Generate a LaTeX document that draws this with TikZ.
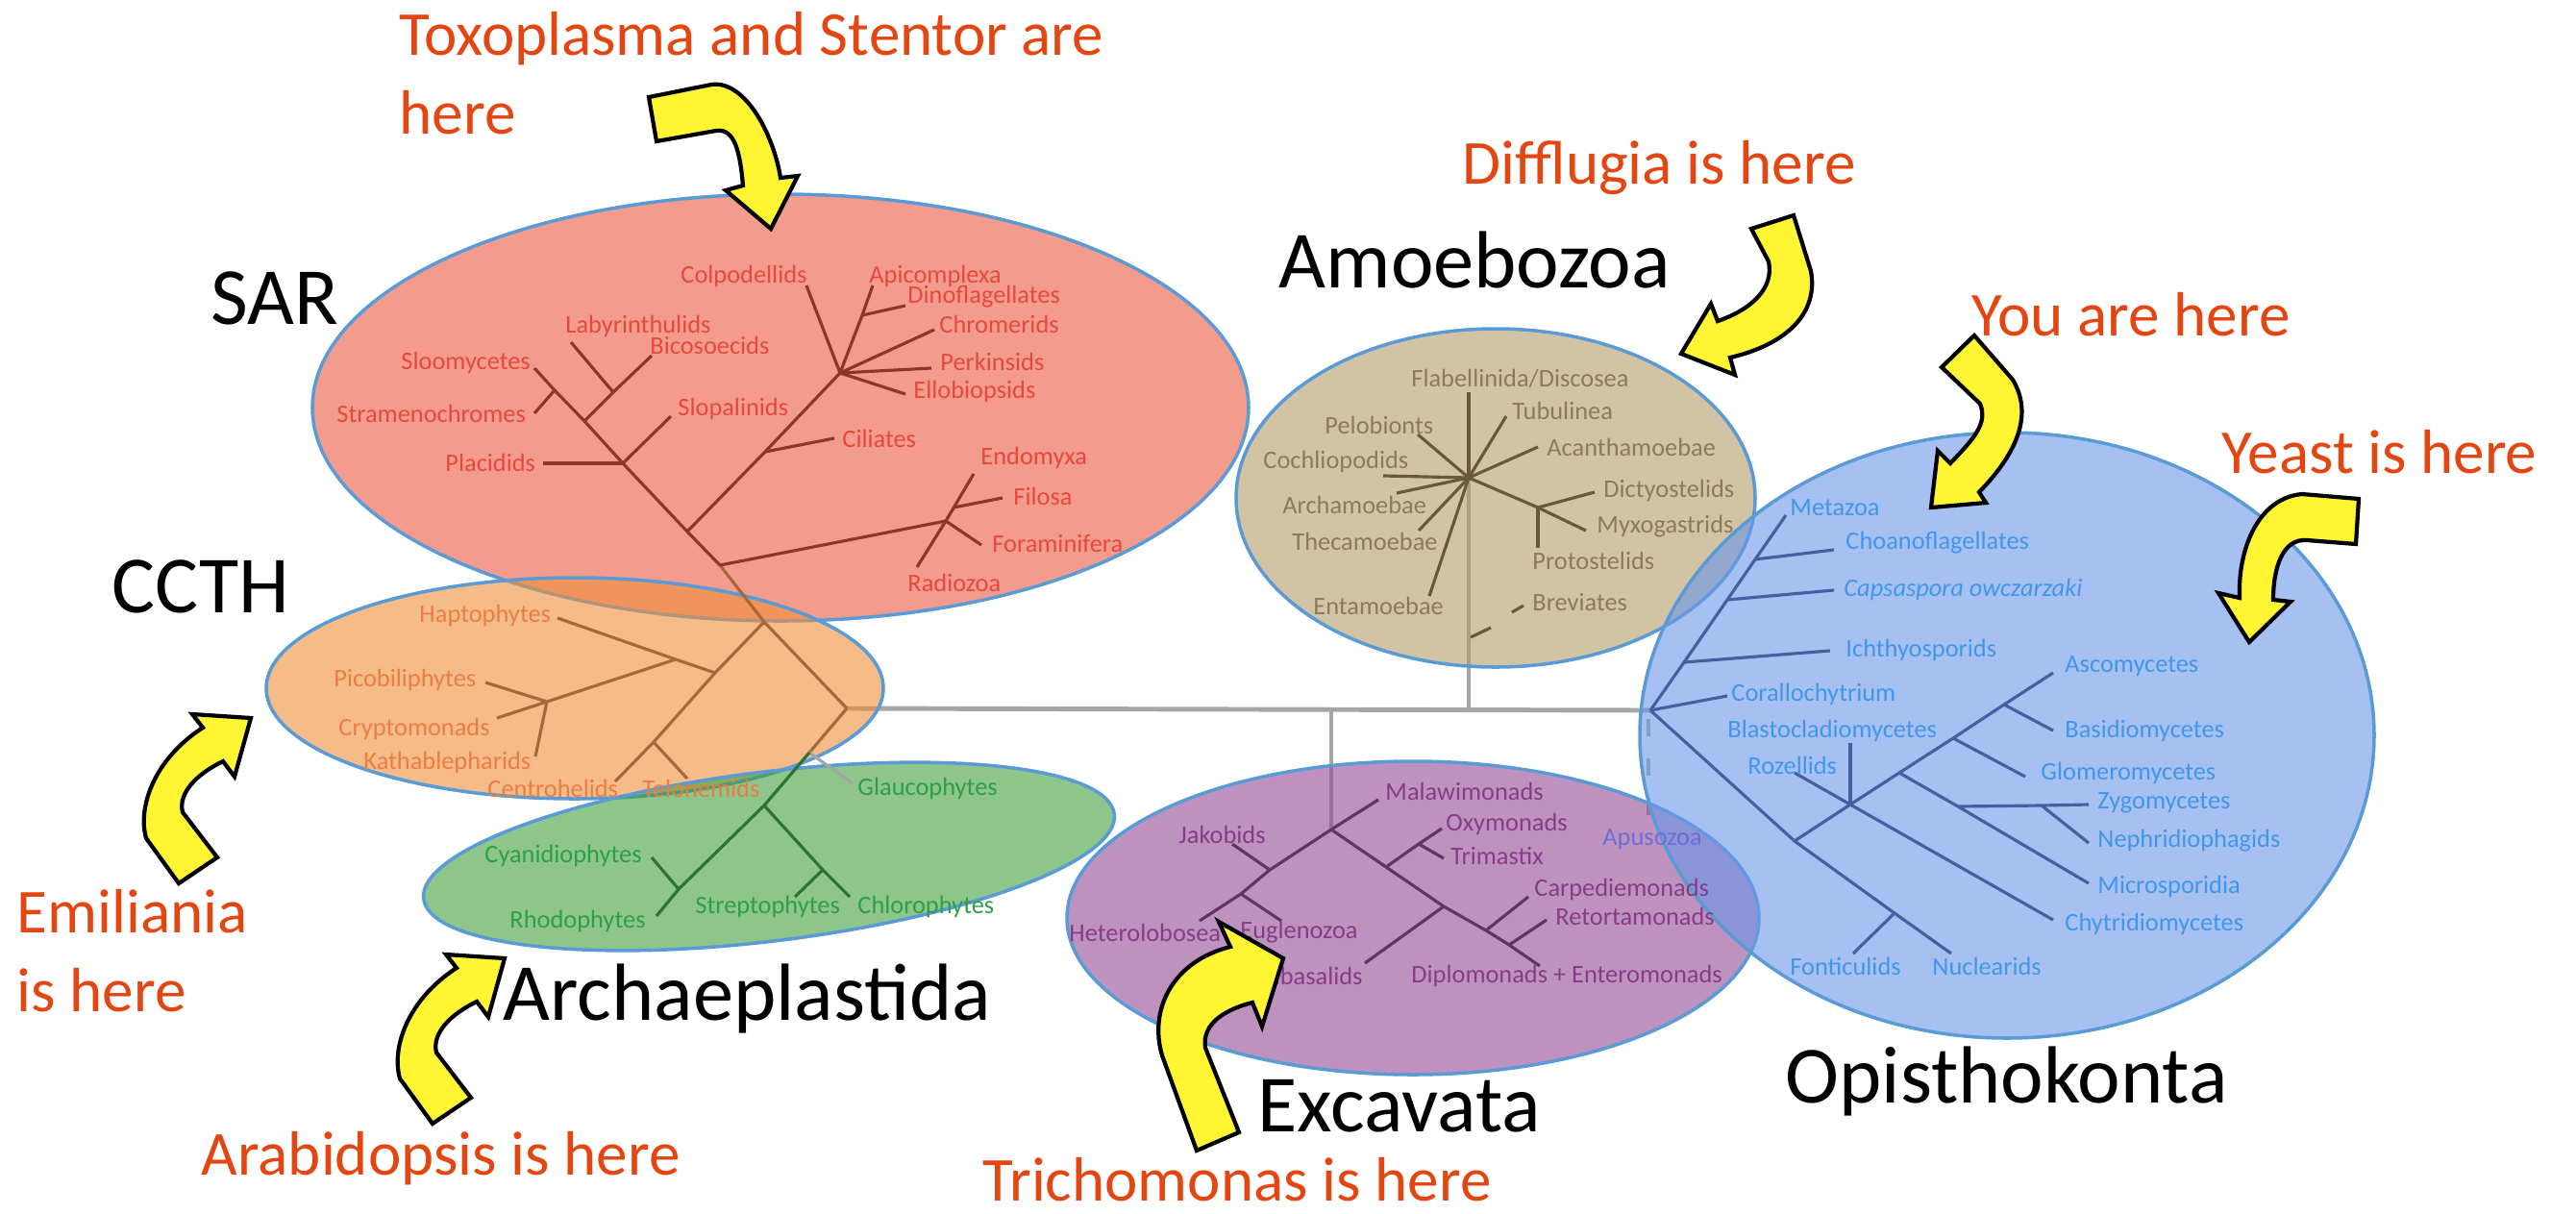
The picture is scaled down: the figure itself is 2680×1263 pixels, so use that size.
\documentclass[tikz,border=0pt]{standalone}
\usepackage{fontspec}
\setmainfont{Carlito}

\definecolor{rim}{RGB}{91,155,213}
\definecolor{sarfill}{RGB}{235,90,65}
\definecolor{ccthfill}{RGB}{238,143,60}
\definecolor{archfill}{RGB}{65,158,60}
\definecolor{amoefill}{RGB}{182,155,105}
\definecolor{excfill}{RGB}{147,73,147}
\definecolor{opisfill}{RGB}{107,150,233}
\definecolor{sarline}{RGB}{145,52,42}
\definecolor{sartext}{RGB}{230,72,62}
\definecolor{ccthline}{RGB}{165,105,60}
\definecolor{ccthtext}{RGB}{236,125,65}
\definecolor{archline}{RGB}{45,115,50}
\definecolor{archtext}{RGB}{45,160,70}
\definecolor{amoeline}{RGB}{105,88,60}
\definecolor{amoetext}{RGB}{140,122,88}
\definecolor{excline}{RGB}{100,50,100}
\definecolor{exctext}{RGB}{135,60,135}
\definecolor{opisline}{RGB}{70,95,160}
\definecolor{opistext}{RGB}{65,150,235}
\definecolor{apustext}{RGB}{110,110,215}
\definecolor{trunk}{RGB}{165,165,165}
\definecolor{herered}{RGB}{228,70,18}
\definecolor{pointer}{RGB}{255,245,51}

\begin{document}
\begin{tikzpicture}[x=0.01cm, y=-0.01cm,
    clade/.style = {draw=rim, line width=1pt, fill opacity=0.6},
    trunkline/.style = {draw=trunk, line width=1.4pt},
    branch/.style = {line width=0.9pt},
    leaf/.style = {anchor=west, inner sep=0.5pt, font=\fontsize{7.5}{8}\selectfont},
    group/.style = {anchor=base west, inner sep=0pt, font=\fontsize{24}{28}\selectfont},
    here/.style = {inner sep=0pt, text=herered, font=\fontsize{18.5}{23.2}\selectfont},
    bent/.style = {fill=pointer, draw=black, line width=1.2pt, line join=miter}]

\useasboundingbox (0,0) rectangle (2680,1263);

\coordinate (rN) at (881,737);
\coordinate (oRoot) at (1717,739);
\coordinate (mBot) at (1528,737);
\coordinate (mTop) at (1528,408);
\coordinate (eTop) at (1385,737);
\coordinate (eN) at (1385,863);
\coordinate (apTop) at (1715,748);
\coordinate (apBot) at (1715,862);

\draw[trunkline] (rN) -- (oRoot);
\draw[trunkline] (eTop) -- (eN);
\draw[trunkline] (mBot) -- (mTop);
\draw[trunkline, line width=1pt, dash pattern=on 0.18cm off 0.23cm] (apTop) -- (apBot);

\draw[clade, fill=sarfill] (812,424) ellipse [x radius=487, y radius=222];
\draw[clade, fill=ccthfill] (598,716) ellipse [x radius=321, y radius=115];
\draw[clade, fill=archfill, rotate around={7:(800,891)}] (800,891) ellipse [x radius=362, y radius=88];
\draw[clade, fill=amoefill] (1556,518) ellipse [x radius=270, y radius=176];
\draw[clade, fill=excfill] (1470,955) ellipse [x radius=360, y radius=163];
\draw[clade, fill=opisfill] (2088,765) ellipse [x radius=382, y radius=315];

\coordinate (hN) at (795,647);
\coordinate (sRhN) at (749,588);
\coordinate (sAlv) at (715,553);
\coordinate (sPlN) at (648,482);
\coordinate (sStN) at (608,438);
\coordinate (sSlN) at (577,406);
\coordinate (sSloo) at (556,383);
\coordinate (sStra) at (556,430);
\coordinate (sLabN) at (638,408);
\coordinate (sLaby) at (594,356);
\coordinate (sBico) at (678,370);
\coordinate (sPlac) at (565,482);
\coordinate (sSlop) at (698,433);
\coordinate (sCilN) at (796,470);
\coordinate (sCili) at (868,456);
\coordinate (sHub) at (874,388);
\coordinate (sColp) at (839,297);
\coordinate (sApN) at (897,328);
\coordinate (sApic) at (908,297);
\coordinate (sDino) at (942,318);
\coordinate (sChro) at (972,343);
\coordinate (sPerk) at (969,383);
\coordinate (sEllo) at (942,410);
\coordinate (sRhiz) at (984,542);
\coordinate (sEndo) at (1013,493);
\coordinate (sRadi) at (954,590);
\coordinate (sFilN) at (992,528);
\coordinate (sFilo) at (1043,518);
\coordinate (sFora) at (1021,567);

\draw[branch, ccthline] (hN) -- (sRhN);
\draw[branch, sarline] (sRhN) -- (sAlv) -- (sPlN) -- (sStN) -- (sSlN) -- (sSloo);
\draw[branch, sarline] (sSlN) -- (sStra);
\draw[branch, sarline] (sStN) -- (sLabN) -- (sBico);
\draw[branch, sarline] (sLabN) -- (sLaby);
\draw[branch, sarline] (sPlN) -- (sPlac);
\draw[branch, sarline] (sPlN) -- (sSlop);
\draw[branch, sarline] (sAlv) -- (sCilN) -- (sHub);
\draw[branch, sarline] (sCilN) -- (sCili);
\draw[branch, sarline] (sHub) -- (sColp);
\draw[branch, sarline] (sHub) -- (sApN) -- (sApic);
\draw[branch, sarline] (sApN) -- (sDino);
\draw[branch, sarline] (sHub) -- (sChro);
\draw[branch, sarline] (sHub) -- (sPerk);
\draw[branch, sarline] (sHub) -- (sEllo);
\draw[branch, sarline] (sRhN) -- (sRhiz);
\draw[branch, sarline] (sRadi) -- (sRhiz) -- (sEndo);
\draw[branch, sarline] (sFilN) -- (sFilo);
\draw[branch, sarline] (sRhiz) -- (sFora);

\node[leaf, text=sartext] (colp) at (706,287) {Colpodellids};
\node[leaf, text=sartext] (apic) at (902,287) {Apicomplexa};
\node[leaf, text=sartext] (dino) at (942,309) {Dinoflagellates};
\node[leaf, text=sartext] (chro) at (975,337) {Chromerids};
\node[leaf, text=sartext] (perk) at (976,376) {Perkinsids};
\node[leaf, text=sartext] (ello) at (948,407) {Ellobiopsids};
\node[leaf, text=sartext] (laby) at (586,339) {Labyrinthulids};
\node[leaf, text=sartext] (bico) at (674,359) {Bicosoecids};
\node[leaf, text=sartext] (sloo) at (415,377) {Sloomycetes};
\node[leaf, text=sartext] (stra) at (348,430) {Stramenochromes};
\node[leaf, text=sartext] (slop) at (703,425) {Slopalinids};
\node[leaf, text=sartext] (plac) at (461,481) {Placidids};
\node[leaf, text=sartext] (cili) at (874,456) {Ciliates};
\node[leaf, text=sartext] (endo) at (1018,476) {Endomyxa};
\node[leaf, text=sartext] (filo) at (1052,516) {Filosa};
\node[leaf, text=sartext] (fora) at (1030,566) {Foraminifera};
\node[leaf, text=sartext] (radi) at (942,606) {Radiozoa};

\coordinate (cHac) at (744,700);
\coordinate (cCeN) at (680,772);
\coordinate (cCent) at (640,813);
\coordinate (cTelo) at (715,810);
\coordinate (cHapt) at (580,643);
\coordinate (cHapB) at (703,686);
\coordinate (cCrN) at (569,730);
\coordinate (cPico) at (505,710);
\coordinate (cCryp) at (517,747);
\coordinate (cKath) at (557,787);

\draw[branch, ccthline] (hN) -- (cHac) -- (cCeN) -- (cCent);
\draw[branch, ccthline] (cCeN) -- (cTelo);
\draw[branch, ccthline] (cHac) -- (cHapB) -- (cHapt);
\draw[branch, ccthline] (cHapB) -- (cCrN);
\draw[branch, ccthline] (cCrN) -- (cPico);
\draw[branch, ccthline] (cCrN) -- (cCryp);
\draw[branch, ccthline] (cCrN) -- (cKath);
\draw[branch, ccthline] (hN) -- (rN);

\node[leaf, text=ccthtext] (hapt) at (434,640) {Haptophytes};
\node[leaf, text=ccthtext] (pico) at (345,707) {Picobiliphytes};
\node[leaf, text=ccthtext] (cryp) at (350,758) {Cryptomonads};
\node[leaf, text=ccthtext] (kath) at (376,793) {Kathablepharids};
\node[leaf, text=ccthtext] (cent) at (505,820) {Centrohelids};
\node[leaf, text=ccthtext] (telo) at (666,820) {Telonemids};

\coordinate (gB) at (842,783);
\coordinate (gGlau) at (887,815);
\coordinate (aN) at (795,838);
\coordinate (aRN) at (706,925);
\coordinate (aRhod) at (683,953);
\coordinate (aCyan) at (678,892);
\coordinate (aGN) at (856,905);
\coordinate (aChlo) at (884,933);
\coordinate (aStre) at (827,933);

\draw[branch, ccthline] (rN) -- (gB);
\draw[branch, trunk] (gB) -- (gGlau);
\draw[branch, archline] (gB) -- (aN) -- (aRN) -- (aRhod);
\draw[branch, archline] (aRN) -- (aCyan);
\draw[branch, archline] (aN) -- (aGN) -- (aChlo);
\draw[branch, archline] (aGN) -- (aStre);

\node[leaf, text=archtext] (glau) at (890,820) {Glaucophytes};
\node[leaf, text=archtext] (cyan) at (502,890) {Cyanidiophytes};
\node[leaf, text=archtext] (rhod) at (528,958) {Rhodophytes};
\node[leaf, text=archtext] (stre) at (721,943) {Streptophytes};
\node[leaf, text=archtext] (chlo) at (890,943) {Chlorophytes};

\coordinate (mHub) at (1528,497);
\coordinate (mTubu) at (1567,433);
\coordinate (mPelo) at (1475,452);
\coordinate (mAcan) at (1600,465);
\coordinate (mCoch) at (1439,495);
\coordinate (mArch) at (1453,513);
\coordinate (mThec) at (1476,552);
\coordinate (mEnta) at (1487,620);
\coordinate (mDiN) at (1600,528);
\coordinate (mDict) at (1659,512);
\coordinate (mMyxo) at (1650,552);
\coordinate (mProt) at (1600,570);
\coordinate (mBrA) at (1573,637);
\coordinate (mBrB) at (1585,630);
\coordinate (mTkA) at (1530,663);
\coordinate (mTkB) at (1551,653);

\draw[branch, amoeline] (mTop) -- (mHub);
\draw[branch, amoeline] (mHub) -- (mTubu);
\draw[branch, amoeline] (mHub) -- (mPelo);
\draw[branch, amoeline] (mHub) -- (mAcan);
\draw[branch, amoeline] (mHub) -- (mCoch);
\draw[branch, amoeline] (mHub) -- (mArch);
\draw[branch, amoeline] (mHub) -- (mThec);
\draw[branch, amoeline] (mHub) -- (mEnta);
\draw[branch, amoeline] (mHub) -- (mDiN) -- (mDict);
\draw[branch, amoeline] (mDiN) -- (mMyxo);
\draw[branch, amoeline] (mDiN) -- (mProt);
\draw[branch, amoeline] (mBrA) -- (mBrB);
\draw[branch, amoeline] (mTkA) -- (mTkB);

\node[leaf, text=amoetext] (flab) at (1466,394) {Flabellinida/Discosea};
\node[leaf, text=amoetext] (tubu) at (1571,427) {Tubulinea};
\node[leaf, text=amoetext] (pelo) at (1376,442) {Pelobionts};
\node[leaf, text=amoetext] (acan) at (1607,465) {Acanthamoebae};
\node[leaf, text=amoetext] (coch) at (1312,480) {Cochliopodids};
\node[leaf, text=amoetext] (dict) at (1666,510) {Dictyostelids};
\node[leaf, text=amoetext] (archa) at (1332,525) {Archamoebae};
\node[leaf, text=amoetext] (myxo) at (1659,548) {Myxogastrids};
\node[leaf, text=amoetext] (thec) at (1342,563) {Thecamoebae};
\node[leaf, text=amoetext] (prot) at (1592,583) {Protostelids};
\node[leaf, text=amoetext] (enta) at (1364,630) {Entamoebae};
\node[leaf, text=amoetext] (brev) at (1592,627) {Breviates};

\coordinate (eMala) at (1434,832);
\coordinate (eJaN) at (1321,905);
\coordinate (eJako) at (1282,878);
\coordinate (eDiN) at (1291,930);
\coordinate (eHete) at (1248,958);
\coordinate (eEugl) at (1333,958);
\coordinate (eOxB) at (1442,902);
\coordinate (eOxN) at (1476,878);
\coordinate (eOxym) at (1500,862);
\coordinate (eTrim) at (1502,893);
\coordinate (ePaN) at (1502,943);
\coordinate (ePara) at (1420,1002);
\coordinate (eCaB) at (1546,968);
\coordinate (eCarp) at (1590,933);
\coordinate (eDpN) at (1570,983);
\coordinate (eReto) at (1609,957);
\coordinate (eDipl) at (1602,1005);

\draw[branch, excline] (eN) -- (eMala);
\draw[branch, excline] (eN) -- (eJaN) -- (eDiN) -- (eHete);
\draw[branch, excline] (eJaN) -- (eJako);
\draw[branch, excline] (eDiN) -- (eEugl);
\draw[branch, excline] (eN) -- (eOxB) -- (ePaN) -- (eCaB) -- (eDpN) -- (eDipl);
\draw[branch, excline] (eOxB) -- (eOxN) -- (eOxym);
\draw[branch, excline] (eOxN) -- (eTrim);
\draw[branch, excline] (ePaN) -- (ePara);
\draw[branch, excline] (eCaB) -- (eCarp);
\draw[branch, excline] (eDpN) -- (eReto);

\node[leaf, text=exctext] (mala) at (1439,823) {Malawimonads};
\node[leaf, text=exctext] (jako) at (1224,868) {Jakobids};
\node[leaf, text=exctext] (oxym) at (1502,857) {Oxymonads};
\node[leaf, text=exctext] (trim) at (1507,890) {Trimastix};
\node[leaf, text=exctext] (hete) at (1110,970) {Heterolobosea};
\node[leaf, text=exctext] (eugl) at (1288,970) {Euglenozoa};
\node[leaf, text=exctext, anchor=east] (para) at (1420,1015) {Parabasalids};
\node[leaf, text=exctext] (carp) at (1594,925) {Carpediemonads};
\node[leaf, text=exctext] (reto) at (1616,953) {Retortamonads};
\node[leaf, text=exctext] (dipl) at (1466,1015) {Diplomonads + Enteromonads};
\node[leaf, text=apustext] (apus) at (1665,873) {Apusozoa};

\coordinate (oMeta) at (1858,536);
\coordinate (oChB) at (1826,582);
\coordinate (oChoa) at (1908,572);
\coordinate (oCaB) at (1797,624);
\coordinate (oCaps) at (1908,614);
\coordinate (oIcB) at (1752,689);
\coordinate (oIcht) at (1904,677);
\coordinate (oCora) at (1797,724);
\coordinate (oHoN) at (1867,875);
\coordinate (oNuN) at (1971,950);
\coordinate (oNucl) at (2030,992);
\coordinate (oFont) at (1928,992);
\coordinate (oA) at (1925,837);
\coordinate (oB) at (1976,804);
\coordinate (oC) at (2032,768);
\coordinate (oD) at (2085,733);
\coordinate (oAsco) at (2136,700);
\coordinate (oBlas) at (1925,773);
\coordinate (oRoze) at (1867,804);
\coordinate (oChyt) at (2136,957);
\coordinate (oZyB) at (2037,839);
\coordinate (oNeB) at (2124,838);
\coordinate (oZygo) at (2173,837);
\coordinate (oNeph) at (2173,877);
\coordinate (oMicr) at (2173,919);
\coordinate (oGlom) at (2107,808);
\coordinate (oBasi) at (2136,760);

\draw[branch, opisline] (oRoot) -- (oIcB) -- (oCaB) -- (oChB) -- (oMeta);
\draw[branch, opisline] (oChB) -- (oChoa);
\draw[branch, opisline] (oCaB) -- (oCaps);
\draw[branch, opisline] (oIcB) -- (oIcht);
\draw[branch, opisline] (oRoot) -- (oCora);
\draw[branch, opisline] (oRoot) -- (oHoN) -- (oNuN) -- (oNucl);
\draw[branch, opisline] (oNuN) -- (oFont);
\draw[branch, opisline] (oHoN) -- (oA) -- (oB) -- (oC) -- (oD) -- (oAsco);
\draw[branch, opisline] (oRoze) -- (oA) -- (oChyt);
\draw[branch, opisline] (oA) -- (oBlas);
\draw[branch, opisline] (oB) -- (oZyB) -- (oMicr);
\draw[branch, opisline] (oZyB) -- (oNeB) -- (oZygo);
\draw[branch, opisline] (oNeB) -- (oNeph);
\draw[branch, opisline] (oC) -- (oGlom);
\draw[branch, opisline] (oD) -- (oBasi);

\node[leaf, text=opistext] (meta) at (1860,528) {Metazoa};
\node[leaf, text=opistext] (choa) at (1918,565) {Choanoflagellates};
\node[leaf, text=opistext] (caps) at (1916,613) {\itshape Capsaspora owczarzaki};
\node[leaf, text=opistext] (icht) at (1918,676) {Ichthyosporids};
\node[leaf, text=opistext] (cora) at (1799,722) {Corallochytrium};
\node[leaf, text=opistext] (blas) at (1795,760) {Blastocladiomycetes};
\node[leaf, text=opistext] (roze) at (1816,796) {Rozellids};
\node[leaf, text=opistext] (asco) at (2146,693) {Ascomycetes};
\node[leaf, text=opistext] (basi) at (2146,760) {Basidiomycetes};
\node[leaf, text=opistext] (glom) at (2121,804) {Glomeromycetes};
\node[leaf, text=opistext] (zygo) at (2180,835) {Zygomycetes};
\node[leaf, text=opistext] (neph) at (2180,875) {Nephridiophagids};
\node[leaf, text=opistext] (micr) at (2180,922) {Microsporidia};
\node[leaf, text=opistext] (chyt) at (2146,961) {Chytridiomycetes};
\node[leaf, text=opistext] (fonti) at (1860,1005) {Fonticulids};
\node[leaf, text=opistext] (nucl) at (2008,1005) {Nuclearids};

\draw[bent] (675,101) -- (740,88) .. controls (775,83) and (805,140) .. (812,185) -- (830,183) -- (802,238) -- (755,198) -- (773,193) .. controls (770,160) and (765,133) .. (745,136) -- (683,147) -- cycle;
\draw[bent] (1822,238) -- (1866,224) -- (1884,282) .. controls (1892,325) and (1860,358) .. (1800,372) -- (1805,390) -- (1749,368) -- (1780,316) -- (1787,334) .. controls (1822,322) and (1846,300) .. (1840,272) -- cycle;
\draw[bent] (2020,382) -- (2054,349) -- (2094,395) .. controls (2115,430) and (2100,470) .. (2059,512) -- (2066,523) -- (2009,528) -- (2016,469) -- (2029,482) .. controls (2055,455) and (2068,440) .. (2060,420) -- cycle;
\draw[bent] (2454,519) -- (2451,566) -- (2400,562) .. controls (2375,560) and (2365,590) .. (2365,624) -- (2383,626) -- (2340,668) -- (2308,617) -- (2330,622) .. controls (2328,570) and (2350,518) .. (2395,514) -- cycle;
\draw[bent] (261,747) -- (244,808) -- (232,792) .. controls (205,805) and (185,825) .. (190,845) -- (226,892) -- (186,919) -- (152,872) .. controls (143,840) and (160,790) .. (211,757) -- (200,743) -- cycle;
\draw[bent] (525,997) -- (508,1058) -- (496,1042) .. controls (469,1055) and (449,1075) .. (454,1095) -- (490,1142) -- (450,1169) -- (416,1122) .. controls (407,1090) and (424,1040) .. (475,1007) -- (464,993) -- cycle;
\draw[bent] (1335,997) -- (1313,1068) -- (1303,1043) .. controls (1275,1050) and (1250,1065) .. (1254,1090) -- (1289,1178) -- (1245,1197) -- (1209,1098) .. controls (1195,1050) and (1220,1000) .. (1280,985) -- (1268,959) -- cycle;

\node[group] (sar) at (219,337) {SAR};
\node[group] (ccth) at (116,637) {CCTH};
\node[group] (amoebozoa) at (1330,299) {Amoebozoa};
\node[group] (archaeplastida) at (523,1061) {Archaeplastida};
\node[group] (excavata) at (1308,1177) {Excavata};
\node[group] (opisthokonta) at (1857,1147) {Opisthokonta};

\node[here, align=left, anchor=north west] (toxo) at (415,12) {Toxoplasma and Stentor are\\here};
\node[here, anchor=base west] (difflugia) at (1521,191) {Difflugia is here};
\node[here, anchor=base west] (you) at (2051,349) {You are here};
\node[here, anchor=base west] (yeast) at (2311,492) {Yeast is here};
\node[here, align=left, anchor=north west] (emiliania) at (17,925) {Emiliania\\is here};
\node[here, anchor=base west] (arabidopsis) at (209,1222) {Arabidopsis is here};
\node[here, anchor=base west] (trichomonas) at (1022,1249) {Trichomonas is here};
\end{tikzpicture}
\end{document}
